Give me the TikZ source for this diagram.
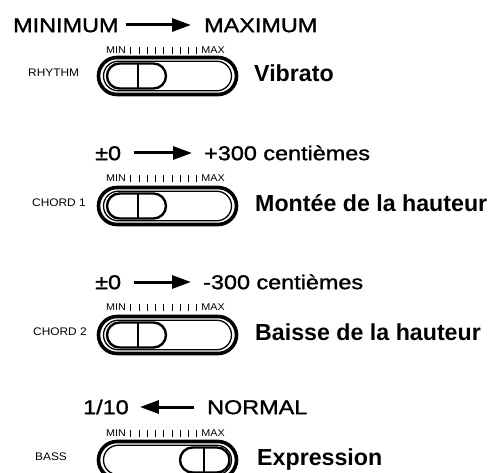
\documentclass[tikz,border=0pt]{standalone}
\usepackage{fontspec}
\setmainfont{Liberation Sans}
\newfontfamily\medfont[FakeBold=1.2]{Liberation Sans}
\usepackage{graphicx}
\usetikzlibrary{arrows.meta,calc}
\newcommand\widetxt[1]{\scalebox{1.17}[1]{#1}}
\newcommand\smalltxt[1]{\scalebox{1.08}[1]{#1}}
\newcommand\scaletxt[1]{\scalebox{1.1}[1]{#1}}
\tikzset{
 reg/.style={anchor=west, inner sep=0pt, font=\fontsize{20}{23}\medfont, text height=14.3pt, text depth=0pt},
 lbl/.style={anchor=west, inner sep=0pt, font=\fontsize{11}{13}\selectfont, text height=7.9pt, text depth=0pt},
 bld/.style={anchor=west, inner sep=0pt, font=\fontsize{23.2}{26}\selectfont\bfseries, text height=16.6pt, text depth=0pt},
 scl/.style={inner sep=0pt, font=\fontsize{9.8}{11}\selectfont, text height=7pt, text depth=0pt},
 arr/.style={line width=3pt, -{Triangle[length=19pt,width=13pt]}, shorten <=7pt, shorten >=13pt},
 tickmark/.style={line width=0.8pt},
 pics/slider/.style args={#1/#2/#3}{code={
   \draw[line width=3.6pt, fill=white, rounded corners=18.5pt] (-69,-18.5) rectangle (69,18.5);
   \draw[line width=1.3pt, rounded corners=14.8pt] (-64,-14.8) rectangle (64,14.8);
   \draw[line width=2.4pt, fill=white, rounded corners=12.5pt] (#1,-12.5) rectangle (#2,12.5);
   \draw[line width=1.8pt] (#3,-12.5) -- (#3,12.5);
 }}
}
\begin{document}
\begin{tikzpicture}[x=1pt,y=-1pt]
\useasboundingbox (0,0) rectangle (500,473);
\fill[white] (0,0) rectangle (500,473);

% Row 1
\node[reg] (t1a) at (13,25) {\widetxt{MINIMUM}};
\node[reg] (t1b) at (204,25) {\widetxt{MAXIMUM}};
\draw[arr] (t1a) -- (t1b);
\node[scl, anchor=west] (mn1) at (106,50) {\scaletxt{MIN}};
\node[scl, anchor=east] (mx1) at (225,50) {\scaletxt{MAX}};
\pic (s1) at (167.5,76) {slider={-60.5/-1.5/-29.5}};
\node[lbl] (l1) at (28,73) {\smalltxt{RHYTHM}};
\node[bld] (b1) at (254,73) {Vibrato};

% Row 2
\node[reg] (t2a) at (95,153) {\widetxt{±0}};
\node[reg] (t2b) at (204,153) {\widetxt{+300 centièmes}};
\draw[arr, shorten <=13pt, shorten >=12pt] (t2a) -- (t2b);
\node[scl, anchor=west] (mn2) at (106,178) {\scaletxt{MIN}};
\node[scl, anchor=east] (mx2) at (225,178) {\scaletxt{MAX}};
\pic (s2) at (167.5,206) {slider={-60.5/-1.5/-29.5}};
\node[lbl] (l2) at (32,203) {\smalltxt{CHORD 1}};
\node[bld] (b2) at (255,203) {Montée de la hauteur};

% Row 3
\node[reg] (t3a) at (95,282) {\widetxt{±0}};
\node[reg] (t3b) at (203,282) {\widetxt{-300 centièmes}};
\draw[arr, shorten <=13pt, shorten >=12pt] (t3a) -- (t3b);
\node[scl, anchor=west] (mn3) at (106,307) {\scaletxt{MIN}};
\node[scl, anchor=east] (mx3) at (225,307) {\scaletxt{MAX}};
\pic (s3) at (167.5,335) {slider={-60.5/-1.5/-29.5}};
\node[lbl] (l3) at (33,332) {\smalltxt{CHORD 2}};
\node[bld] (b3) at (255,332) {Baisse de la hauteur};

% Row 4
\node[reg] (t4a) at (83,407) {\widetxt{1/10}};
\node[reg] (t4b) at (207,407) {\widetxt{NORMAL}};
\draw[arr, shorten <=13pt, shorten >=11pt] (t4b) -- (t4a);
\node[scl, anchor=west] (mn4) at (106,433) {\scaletxt{MIN}};
\node[scl, anchor=east] (mx4) at (225,433) {\scaletxt{MAX}};
\pic (s4) at (167.5,460) {slider={12.5/62/36.5}};
\node[lbl] (l4) at (35,457) {\smalltxt{BASS}};
\node[bld] (b4) at (257,457) {Expression};

% scale ticks
\foreach \r in {1,2,3,4}{
  \foreach \i in {1,...,9}{
    \draw[tickmark] ($([xshift=4.5pt]mn\r.south east)!{(\i-1)/8}!([xshift=-4.5pt]mx\r.south west)$) -- ++(0,-7);
  }
}
\end{tikzpicture}
\end{document}
